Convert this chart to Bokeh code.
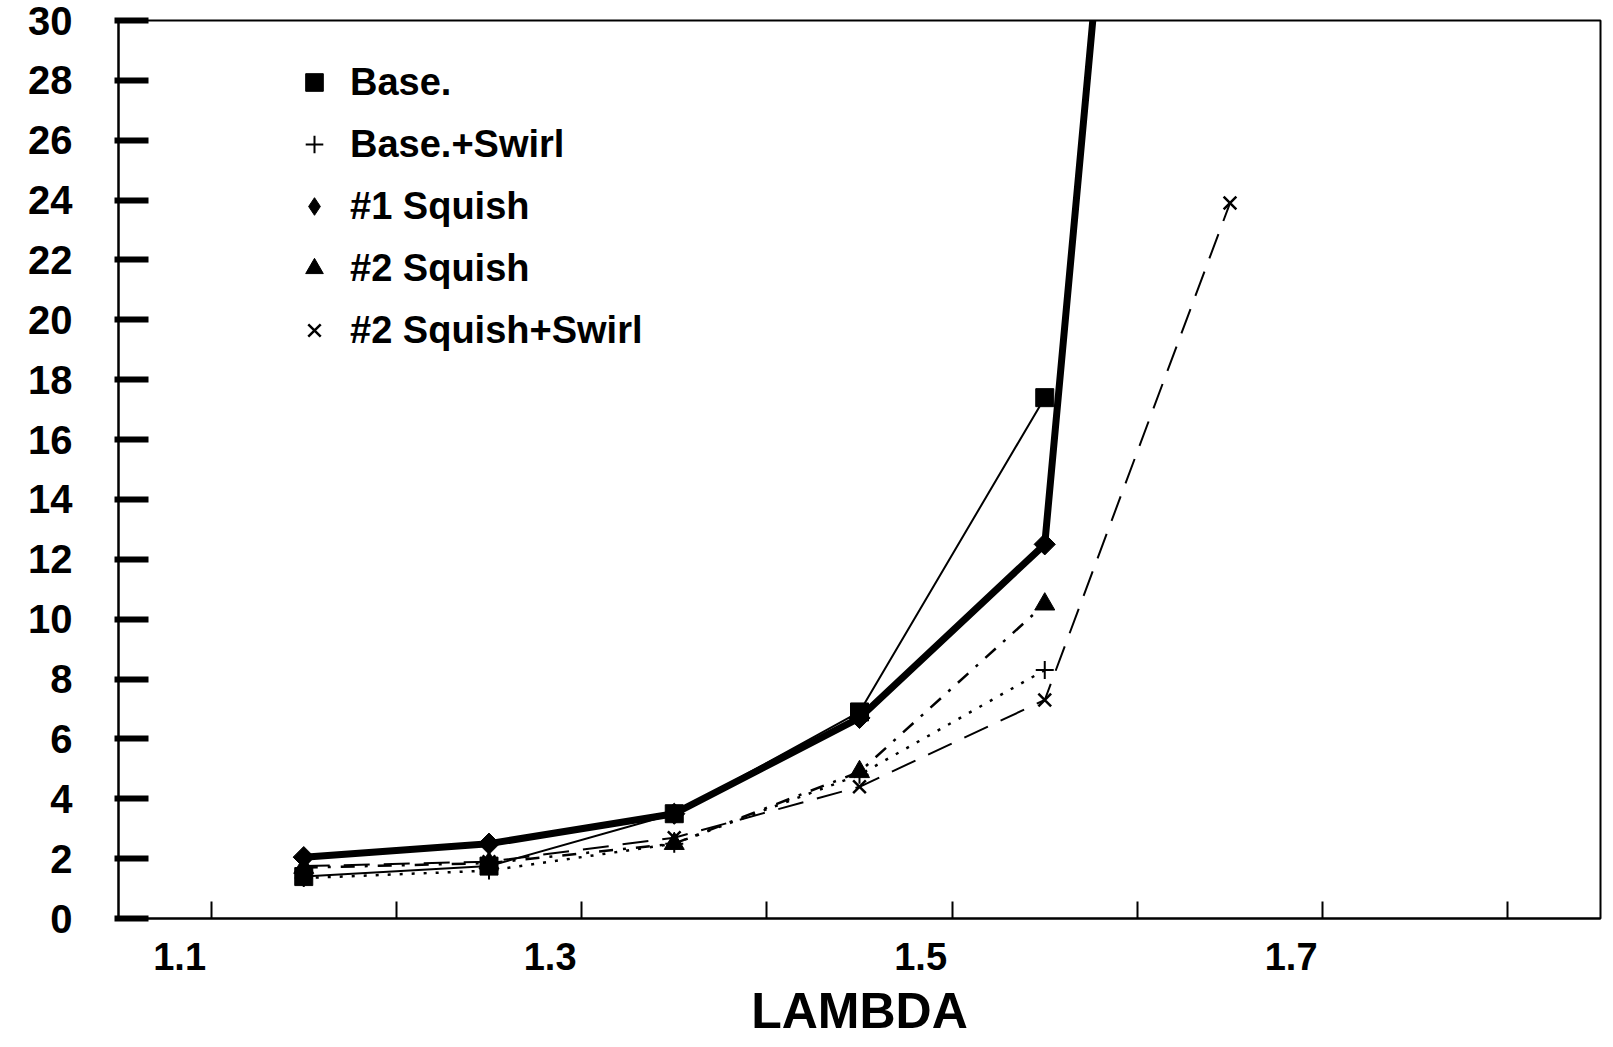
import math
from bokeh.plotting import figure
from bokeh.models import Range1d, LinearAxis, FixedTicker, Legend, LegendItem
from bokeh.embed import file_html
from bokeh.resources import INLINE

# ---- data ----
lam = [1.15, 1.25, 1.35, 1.45, 1.55, 1.65]
base = [1.4, 1.75, 3.5, 6.9, 17.4]
base_swirl = [1.35, 1.6, 2.5, 4.8, 8.3]
squish1 = [2.05, 2.5, 3.5, 6.7, 12.5, 80.0]
squish2 = [1.7, 1.85, 2.5, 4.9, 10.5]
squish2_swirl = [1.75, 1.9, 2.7, 4.4, 7.3, 23.9]

series_names = ["Base.", "Base.+Swirl", "#1 Squish", "#2 Squish", "#2 Squish+Swirl"]
x_ticks = [1.1, 1.2, 1.3, 1.4, 1.5, 1.6, 1.7, 1.8]
x_labels = [1.1, 1.3, 1.5, 1.7]
y_ticks = list(range(0, 31, 2))

FONT = "Liberation Sans"
X0, X1 = 1.05, 1.85
SHIFT = 0.017  # the printed labels sit a little left of their tick marks

p = figure(width=1613, height=1047, output_backend="svg", toolbar_location=None,
           x_range=Range1d(X0, X1), y_range=Range1d(0, 30), x_axis_location=None)
p.min_border_left = 118
p.min_border_right = 13
p.min_border_top = 20
p.min_border_bottom = 129
p.xgrid.visible = False
p.ygrid.visible = False
p.outline_line_color = "black"
p.outline_line_width = 2
p.background_fill_color = "white"
p.border_fill_color = "white"

# x axis: labels on a slightly shifted range, tick marks (as minor ticks) at the true positions
p.extra_x_ranges = {"lab": Range1d(X0 + SHIFT, X1 + SHIFT)}
xl = LinearAxis(x_range_name="lab",
                ticker=FixedTicker(ticks=x_labels, minor_ticks=[t + SHIFT for t in x_ticks]))
xl.axis_line_color = "black"
xl.axis_line_width = 2
xl.major_tick_line_color = None
xl.major_tick_out = 0
xl.major_tick_in = 0
xl.minor_tick_line_color = "black"
xl.minor_tick_line_width = 2
xl.minor_tick_in = 17
xl.minor_tick_out = 0
xl.major_label_standoff = 24
xl.major_label_text_font = FONT
xl.major_label_text_font_size = "38px"
xl.major_label_text_font_style = "bold"
xl.major_label_text_color = "black"
xl.axis_label = "LAMBDA"
xl.axis_label_text_font = FONT
xl.axis_label_text_font_size = "50px"
xl.axis_label_text_font_style = "bold"
xl.axis_label_text_color = "black"
xl.axis_label_standoff = 10
p.add_layout(xl, "below")

# y axis
ya = p.yaxis[0]
ya.ticker = FixedTicker(ticks=y_ticks)
ya.major_tick_in = 30
ya.major_tick_out = 4
ya.major_tick_line_width = 6
ya.minor_tick_line_color = None
ya.axis_line_width = 2
ya.major_label_text_font = FONT
ya.major_label_text_font_size = "40px"
ya.major_label_text_font_style = "bold"
ya.major_label_text_color = "black"
ya.major_label_standoff = 42

# lines
p.line(lam[:5], base, line_color="black", line_width=2)
p.line(lam[:5], base_swirl, line_color="black", line_width=2.5, line_dash="3 9")
p.line(lam, squish1, line_color="black", line_width=7)
p.line(lam[:5], squish2, line_color="black", line_width=2.5, line_dash="14 10 3 10")
p.line(lam, squish2_swirl, line_color="black", line_width=2, line_dash="26 14")

# markers
r1 = p.scatter(lam[:5], base, marker="square", size=18, color="black")
r2 = p.scatter(lam[:5], base_swirl, marker="cross", size=18, line_color="black", line_width=2)
# diamond marker (used for the legend entry); the wider rotated square drawn over it
r3 = p.scatter(lam, squish1, marker="diamond", size=14, color="black")
p.scatter(lam, squish1, marker="square", angle=math.pi / 4, size=15, color="black")
r4 = p.scatter(lam[:5], squish2, marker="triangle", size=20, color="black")
r5 = p.scatter(lam, squish2_swirl, marker="x", size=18, line_color="black", line_width=2.5)

legend = Legend(items=[LegendItem(label=n, renderers=[r]) for n, r in
                       zip(series_names, [r1, r2, r3, r4, r5])],
                location=(174, 566), orientation="vertical")
legend.border_line_color = None
legend.background_fill_alpha = 0
legend.label_text_font = FONT
legend.label_text_font_size = "38px"
legend.label_text_font_style = "bold"
legend.label_text_color = "black"
legend.glyph_width = 44
legend.glyph_height = 44
legend.spacing = 18
legend.padding = 0
legend.margin = 0
legend.label_standoff = 14
p.add_layout(legend)

open("out.html", "w").write(file_html(p, INLINE))
